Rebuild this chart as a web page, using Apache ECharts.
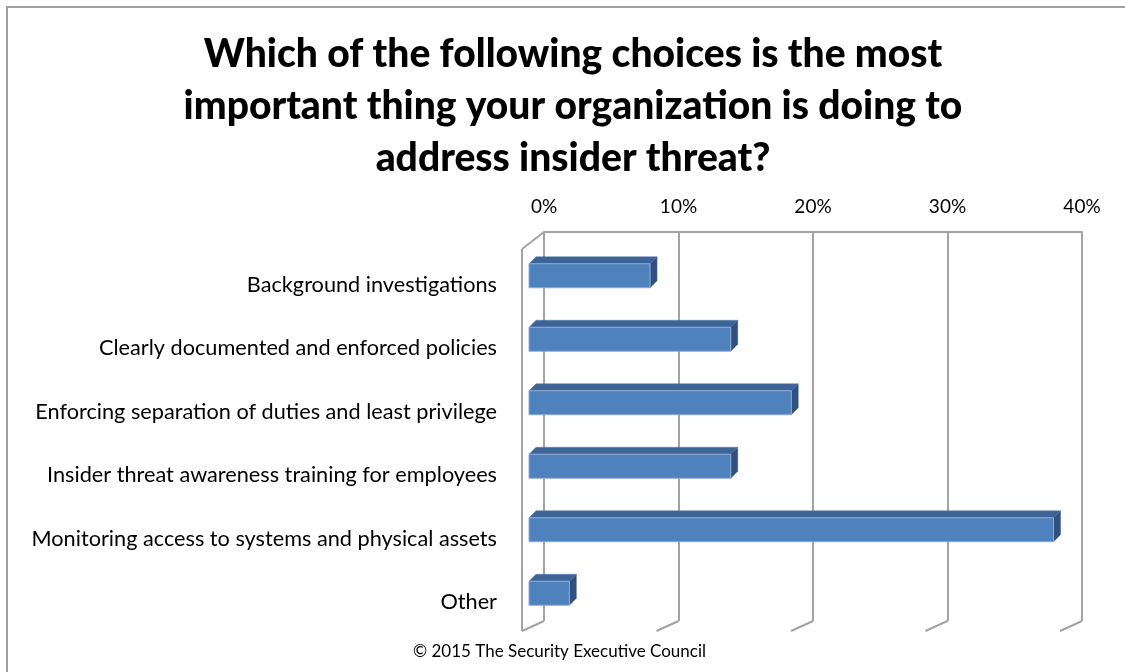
<!DOCTYPE html>
<html>
<head>
<meta charset="utf-8">
<script src="https://cdn.jsdelivr.net/npm/echarts@6/dist/echarts.min.js"></script>
<style>
html,body{margin:0;padding:0;background:#fff;}
#chart{width:1125px;height:672px;}
</style>
</head>
<body>
<div id="chart"></div>
<script>
const titleText = 'Which of the following choices is the most\nimportant thing your organization is doing to\naddress insider threat?';
const categories = [
  'Background investigations',
  'Clearly documented and enforced policies',
  'Enforcing separation of duties and least privilege',
  'Insider threat awareness training for employees',
  'Monitoring access to systems and physical assets',
  'Other'
];
const values = [9, 15, 19.5, 15, 39, 3];
const tickValues = [0, 10, 20, 30, 40];
const footnote = '\u00a9 2015 The Security Executive Council';

const chart = echarts.init(document.getElementById('chart'), null, {renderer: 'canvas'});
const GRID_COLOR = '#a3a3a3';
const DEPTH = 7;
const BAR_H = 24;

const option = {
  backgroundColor: '#fff',
  animation: false,
  grid: [
    {left: 529, width: 538, top: 244, height: 381},
    {left: 544, width: 538, top: 232, height: 389},
    {left: 529, width: 538, top: 253, height: 381}
  ],
  xAxis: [
    {gridIndex: 0, type: 'value', min: 0, max: 40, interval: 10, show: false},
    {gridIndex: 1, type: 'value', min: 0, max: 40, interval: 10, position: 'top',
     axisLine: {show: true, lineStyle: {color: GRID_COLOR, width: 2}},
     axisTick: {show: false},
     axisLabel: {formatter: '{value}%', margin: 16, fontSize: 19, color: '#000', fontFamily: 'Lato'},
     splitLine: {show: true, lineStyle: {color: GRID_COLOR, width: 2}}},
    {gridIndex: 2, type: 'value', min: 0, max: 40, interval: 10, show: false}
  ],
  yAxis: [
    {gridIndex: 0, type: 'category', data: categories, inverse: true, show: false},
    {gridIndex: 1, type: 'category', data: categories, inverse: true, show: false},
    {gridIndex: 2, type: 'category', data: categories, inverse: true,
     axisLine: {show: false}, axisTick: {show: false}, splitLine: {show: false},
     axisLabel: {margin: 32, fontSize: 21.7, color: '#000', fontFamily: 'Lato'}}
  ],
  graphic: [
    {type: 'rect', shape: {x: 7, y: 7, width: 1125, height: 700}, style: {fill: 'none', stroke: '#a0a0a0', lineWidth: 2}, z: 0},
    {type: 'text', x: 573, y: 28, z: 10,
     style: {text: titleText, align: 'center', verticalAlign: 'top', fill: '#000',
             font: '900 39px Lato', lineHeight: 52}},
    {type: 'text', x: 413, y: 643, z: 10,
     style: {text: footnote, align: 'left', verticalAlign: 'top', fill: '#000', font: '17px Lato'}}
  ],
  series: [
    {
      type: 'custom', name: 'walls', xAxisIndex: 1, yAxisIndex: 1, z: 1, silent: true,
      data: tickValues.map(v => [v, 0]),
      renderItem: function (params, api) {
        const p = api.coord([api.value(0), 0]);
        const cs = params.coordSys;
        const x = p[0], top = cs.y, bottom = cs.y + cs.height;
        const ls = {stroke: GRID_COLOR, lineWidth: 2, fill: 'none'};
        const children = [
          {type: 'line', shape: {x1: x, y1: bottom, x2: x - 22, y2: bottom + 10}, style: ls}
        ];
        if (api.value(0) === tickValues[0]) {
          children.push({type: 'line', shape: {x1: x - 22, y1: bottom + 10, x2: x - 22, y2: top + 17}, style: ls});
          children.push({type: 'line', shape: {x1: x - 22, y1: top + 17, x2: x, y2: top}, style: ls});
        }
        return {type: 'group', children: children};
      }
    },
    {
      type: 'custom', name: 'bars', xAxisIndex: 0, yAxisIndex: 0, z: 5,
      data: values.map((v, i) => [v, i]),
      encode: {x: 0, y: 1},
      renderItem: function (params, api) {
        const c = api.value(1);
        const s = api.coord([0, c]);
        const e = api.coord([api.value(0), c]);
        const x0 = s[0], x1 = e[0];
        const yt = s[1] - BAR_H / 2, yb = s[1] + BAR_H / 2;
        const d = DEPTH;
        return {
          type: 'group',
          children: [
            {type: 'polygon', shape: {points: [[x0, yt], [x0 + d, yt - d], [x1 + d, yt - d], [x1, yt]]},
             style: {fill: '#3d6496', stroke: '#5a7fae', lineWidth: 0.5}},
            {type: 'polygon', shape: {points: [[x1, yt], [x1 + d, yt - d], [x1 + d, yb - d], [x1, yb]]},
             style: {fill: '#2f5080', stroke: '#4a6a96', lineWidth: 0.5}},
            {type: 'rect', shape: {x: x0, y: yt, width: x1 - x0, height: BAR_H},
             style: {fill: '#4f81bd', stroke: '#8eaad6', lineWidth: 1}}
          ]
        };
      }
    }
  ]
};
chart.setOption(option);
</script>
</body>
</html>
